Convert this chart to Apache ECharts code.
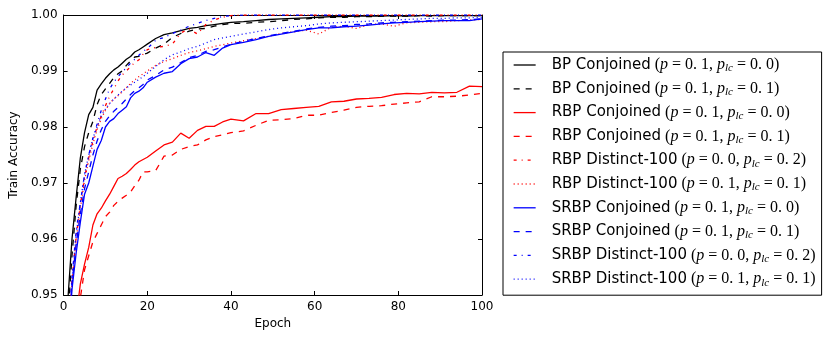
<!DOCTYPE html>
<html>
<head>
<meta charset="utf-8">
<script src="https://cdn.jsdelivr.net/npm/echarts@6/dist/echarts.min.js"></script>
<style>
html,body{margin:0;padding:0;background:#fff;}
#chart{width:830px;height:341px;}
</style>
</head>
<body>
<div id="chart"></div>
<script>
const epochs = [1,2,3,4,5,6,7,8,9,10,11,12,13,14,15,16,17,18,19,20,
  22,24,26,28,30,32,34,36,38,40,43,46,49,52,55,58,61,64,67,70,
  73,76,79,82,85,88,91,94,97,100];

const methods = ['BP Conjoined','BP Conjoined','RBP Conjoined','RBP Conjoined','RBP Distinct-100',
  'RBP Distinct-100','SRBP Conjoined','SRBP Conjoined','SRBP Distinct-100','SRBP Distinct-100'];
const pVals   = ['0. 1','0. 1','0. 1','0. 1','0. 0','0. 1','0. 1','0. 1','0. 0','0. 1'];
const plcVals = ['0. 0','0. 1','0. 0','0. 1','0. 2','0. 1','0. 0','0. 1','0. 2','0. 1'];

const bpConj00 = [0.949,0.960,0.9675,0.9745,0.979,0.9822,0.9835,0.9866,0.9877,0.9887,
  0.9895,0.9902,0.9907,0.9914,0.9921,0.9926,0.9934,0.9938,0.9943,0.9948,
  0.9958,0.9965,0.9968,0.9972,0.9976,0.9978,0.9981,0.9983,0.9985,0.9987,
  0.9988,0.9990,0.9992,0.9993,0.9994,0.9995,0.9996,0.9997,0.9997,0.9998,
  0.9998,0.9998,0.9999,0.9998,0.9999,0.9999,0.9999,0.9999,0.9999,0.9999];
const bpConj01 = [0.946,0.957,0.966,0.9725,0.9765,0.979,0.981,0.984,0.9858,0.9868,
  0.9878,0.9888,0.9895,0.9900,0.9910,0.9918,0.9925,0.9926,0.9929,0.9932,
  0.9941,0.9948,0.9960,0.9967,0.9971,0.9975,0.9976,0.9980,0.9983,0.9985,
  0.9985,0.9987,0.9988,0.9990,0.9992,0.9993,0.9995,0.9996,0.9996,0.9997,
  0.9997,0.9998,0.9998,0.9998,0.9999,0.9998,0.9999,0.9999,0.9999,0.9999];
const rbpConj00 = [0.925,0.938,0.946,0.952,0.9555,0.9585,0.9625,0.9645,0.9655,0.9668,
  0.968,0.9694,0.9708,0.9712,0.9717,0.9724,0.9732,0.9738,0.9742,0.9746,
  0.9757,0.9768,0.9773,0.9789,0.978,0.9794,0.9801,0.9801,0.9809,0.9814,
  0.9811,0.9824,0.9824,0.9831,0.9833,0.9835,0.9837,0.9845,0.9846,0.985,
  0.9851,0.9853,0.9858,0.986,0.9859,0.9862,0.9861,0.9862,0.9873,0.9872];
const rbpConj01 = [0.92,0.935,0.944,0.9495,0.9545,0.957,0.9595,0.961,0.9625,0.964,
  0.9648,0.966,0.9667,0.9673,0.9678,0.9684,0.9695,0.9705,0.972,0.972,
  0.9722,0.9748,0.975,0.976,0.9765,0.9768,0.9777,0.9783,0.9786,0.979,
  0.9793,0.9803,0.9812,0.9813,0.9815,0.9821,0.9821,0.9826,0.983,0.9835,
  0.9837,0.9838,0.9841,0.9843,0.9845,0.9854,0.9854,0.9855,0.9857,0.986];
const rbpDist02 = [0.942,0.9525,0.9605,0.966,0.971,0.9745,0.9775,0.98,0.982,0.9838,
  0.9855,0.9868,0.9882,0.9893,0.99,0.9908,0.9915,0.992,0.993,0.9938,
  0.9942,0.9944,0.9948,0.9968,0.9975,0.9966,0.9983,0.9991,0.9996,0.9999,
  1,1,1,1,1,1,1,1,1,1,
  1,1,1,1,1,1,1,1,1,1];
const rbpDist11 = [0.94,0.952,0.96,0.9655,0.9705,0.974,0.977,0.9795,0.9815,0.983,
  0.9842,0.985,0.9856,0.9863,0.987,0.9878,0.9884,0.989,0.9895,0.99,
  0.991,0.9917,0.9922,0.9928,0.9933,0.9936,0.994,0.9944,0.9947,0.995,
  0.9954,0.9958,0.9962,0.9967,0.997,0.9973,0.9966,0.9978,0.998,0.9976,
  0.9983,0.9984,0.998,0.9986,0.9987,0.9988,0.9988,0.999,0.9991,0.9992];
const srbpConj00 = [0.94,0.951,0.9575,0.963,0.968,0.970,0.973,0.976,0.9776,0.980,
  0.981,0.9815,0.9824,0.983,0.9836,0.9852,0.986,0.9864,0.987,0.988,
  0.9889,0.9896,0.9899,0.9913,0.9922,0.9925,0.9933,0.9928,0.9941,0.9947,
  0.9951,0.9956,0.9962,0.9966,0.997,0.9974,0.9977,0.9977,0.9979,0.998,
  0.9982,0.9984,0.9986,0.9987,0.9988,0.9989,0.999,0.999,0.999,0.9993];
const srbpConj01 = [0.941,0.952,0.959,0.9645,0.969,0.972,0.975,0.9775,0.9795,0.981,
  0.982,0.9828,0.9835,0.9842,0.985,0.9858,0.9865,0.987,0.9876,0.9884,
  0.9892,0.9902,0.9907,0.9915,0.9924,0.9928,0.9935,0.9938,0.9943,0.9948,
  0.9953,0.9958,0.9963,0.9967,0.9971,0.9975,0.9978,0.998,0.9981,0.9983,
  0.9984,0.9986,0.9987,0.9988,0.9989,0.999,0.9991,0.9991,0.9992,0.9993];
const srbpDist02 = [0.943,0.953,0.9615,0.9665,0.9715,0.975,0.978,0.9805,0.983,0.985,
  0.9868,0.988,0.989,0.9898,0.9906,0.9914,0.9921,0.9928,0.9935,0.994,
  0.9955,0.996,0.9967,0.9973,0.998,0.9985,0.999,0.9994,0.9997,0.9999,
  1,1,1,1,1,1,1,1,1,1,
  1,1,1,1,1,1,1,1,1,1];
const srbpDist11 = [0.941,0.9525,0.9608,0.9665,0.9715,0.975,0.978,0.980,0.982,0.9832,
  0.9842,0.985,0.9857,0.9864,0.987,0.9875,0.988,0.9885,0.989,0.9896,
  0.9908,0.992,0.9929,0.9934,0.994,0.9944,0.995,0.9956,0.9959,0.9962,
  0.9966,0.997,0.9974,0.9977,0.9979,0.9981,0.9984,0.9986,0.9987,0.9988,
  0.9989,0.999,0.9991,0.9992,0.9993,0.9994,0.9994,0.9995,0.9995,0.9996];

const yTicks = ['0.95','0.96','0.97','0.98','0.99','1.00'];

const seriesValues = [bpConj00,bpConj01,rbpConj00,rbpConj01,rbpDist02,rbpDist11,srbpConj00,srbpConj01,srbpDist02,srbpDist11];
const colors = ['#000000','#000000','#ff0000','#ff0000','#ff0000','#ff0000','#0000ff','#0000ff','#0000ff','#0000ff'];
const dashes = ['solid',[6,6],'solid',[6,6],[3,5,1,5],[1,3],'solid',[6,6],[3,5,1,5],[1,3]];

const names = methods.map((m,i)=> m + ' (p=' + pVals[i] + ', p_lc=' + plcVals[i] + ')');
const nameIdx = {};
names.forEach((n,i)=>{nameIdx[n]=i;});

const series = seriesValues.map((vals,i)=>({
  name: names[i],
  type: 'line',
  data: epochs.map((e,k)=>[e, vals[k]]),
  showSymbol: false,
  symbol: 'none',
  clip: true,
  color: colors[i],
  lineStyle: {color: colors[i], width: 1.3, type: dashes[i]},
  z: 2 + i
}));

const chart = echarts.init(document.getElementById('chart'), null, {renderer:'canvas'});
const axisCommon = {
  axisLine: {show:true, onZero:false, lineStyle:{color:'#000', width:1}},
  axisTick: {show:true, inside:true, length:4, lineStyle:{color:'#000', width:1}},
  splitLine: {show:false}
};
chart.setOption({
  animation: false,
  backgroundColor: '#fff',
  grid: {left:60, top:15, right:348, bottom:46, containLabel:false},
  xAxis: [
    Object.assign({type:'value', min:0, max:100, interval:20, position:'bottom',
      name:'Epoch', nameLocation:'middle', nameGap:21,
      nameTextStyle:{fontFamily:'DejaVu Sans', fontSize:12, color:'#000'},
      axisLabel:{fontFamily:'DejaVu Sans', fontSize:12, color:'#000', margin:6}}, axisCommon),
    Object.assign({type:'value', min:0, max:100, interval:20, position:'top',
      axisLabel:{show:false}}, axisCommon)
  ],
  yAxis: [
    Object.assign({type:'value', min:0.95, max:1.0, interval:0.01, position:'left',
      name:'Train Accuracy', nameLocation:'middle', nameGap:38, nameRotate:90,
      nameTextStyle:{fontFamily:'DejaVu Sans', fontSize:12, color:'#000'},
      axisLabel:{fontFamily:'DejaVu Sans', fontSize:12, color:'#000', margin:6,
        formatter:(v)=>{const i=Math.round((v-0.95)/0.01); return yTicks[i] !== undefined ? yTicks[i] : v.toFixed(2);}}}, axisCommon),
    Object.assign({type:'value', min:0.95, max:1.0, interval:0.01, position:'right',
      axisLabel:{show:false}}, axisCommon)
  ],
  legend: {
    show: true,
    orient: 'vertical',
    left: 503,
    top: 52,
    padding: [5, 6, 7, 10],
    itemGap: 6.8,
    itemWidth: 22,
    itemHeight: 14,
    borderColor: '#000',
    borderWidth: 1,
    borderRadius: 0,
    selectedMode: false,
    itemStyle: {opacity: 0},
    lineStyle: {width: 1.3},
    data: names,
    formatter: (name)=>{
      const i = nameIdx[name];
      return '{n|' + methods[i] + '}{m| (}{i|p}{m| = ' + pVals[i] + ', }{i|p}{s|lc}{m| = ' + plcVals[i] + ')}';
    },
    textStyle: {
      padding: [0,0,0,11],
      rich: {
        n: {fontFamily:'DejaVu Sans', fontSize:15, color:'#000', lineHeight:18},
        m: {fontFamily:'Liberation Serif', fontSize:16, color:'#000', lineHeight:18},
        i: {fontFamily:'Liberation Serif', fontSize:16, fontStyle:'italic', color:'#000', lineHeight:18},
        s: {fontFamily:'Liberation Serif', fontSize:11, fontStyle:'italic', color:'#000', lineHeight:18, verticalAlign:'bottom', padding:[6,0,0,0]}
      }
    }
  },
  series: series
});
</script>
</body>
</html>
